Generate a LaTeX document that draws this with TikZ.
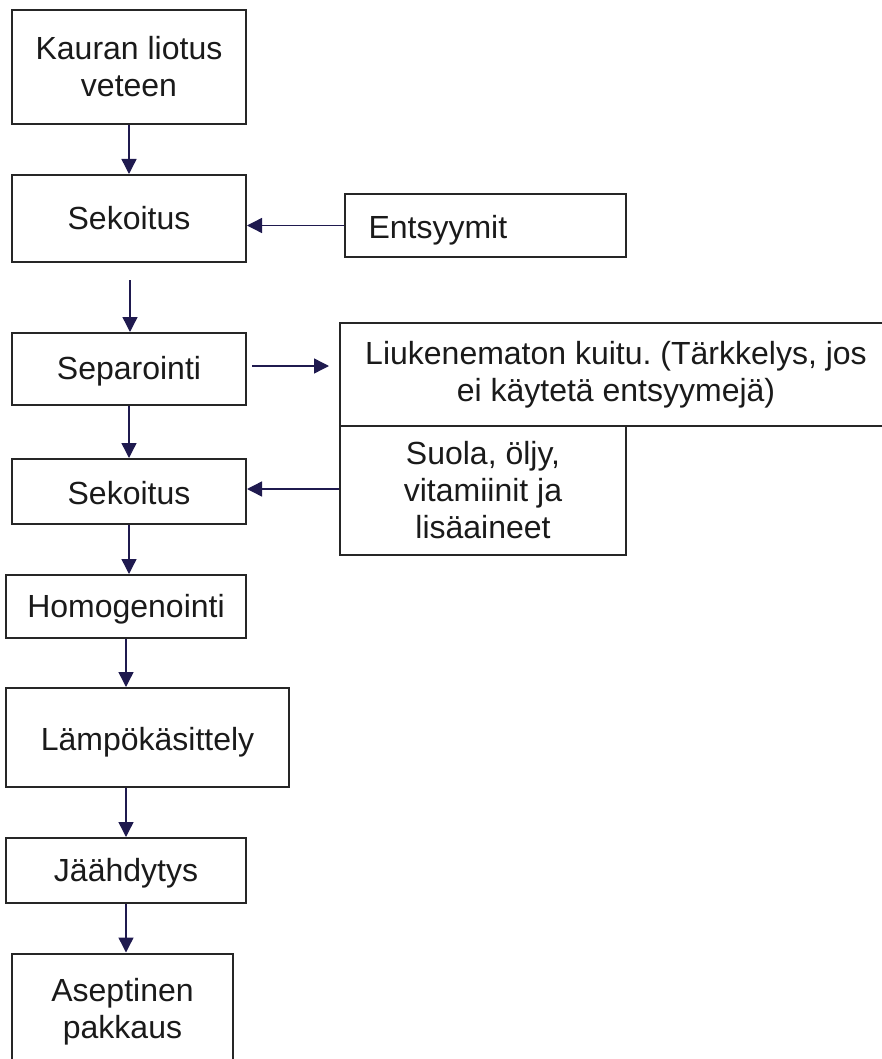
\documentclass[tikz,border=0pt]{standalone}
\usepackage{fontspec}
\setmainfont{Liberation Sans}
\usetikzlibrary{arrows.meta,calc}
\definecolor{boxline}{HTML}{262626}
\definecolor{flow}{HTML}{1F1A4F}
\definecolor{ink}{HTML}{1A1A1A}
\newcommand{\lowered}[2]{\raisebox{-#1}[\height][\depth]{#2}}
\tikzset{
  x=1pt, y=-1pt,
  box/.style={draw=boxline, line width=2pt, inner sep=0pt, align=center,
    text=ink, font=\fontsize{32}{37}\selectfont},
  flowarrow/.style={draw=flow, line width=1.4pt,
    -{Triangle[length=15pt,width=15pt]}},
}
\begin{document}
\frenchspacing
\begin{tikzpicture}
\useasboundingbox (0,0) rectangle (882,1059);

% main process column
\node[box, minimum width=234, minimum height=114] (kauran) at (129,67) {Kauran liotus\\veteen};
\node[box, minimum width=234, minimum height=87] (sek1) at (129,218.5) {Sekoitus};
\node[box, minimum width=234, minimum height=72] (sep) at (129,369) {\lowered{2pt}{Separointi}};
\node[box, minimum width=234, minimum height=65] (sek2) at (129,491.5) {\lowered{2pt}{Sekoitus}};
\node[box, minimum width=240, minimum height=63] (homog) at (126,606.5) {\lowered{3pt}{Homogenointi}};
\node[box, minimum width=283, minimum height=99] (lampo) at (147.5,737.5) {\lowered{5pt}{Lämpökäsittely}};
\node[box, minimum width=240, minimum height=65] (jaah) at (126,870.5) {\lowered{3pt}{Jäähdytys}};
\node[box, minimum width=221, minimum height=117] (asep) at (122.5,1012) {Aseptinen\\pakkaus};

% side inputs and outputs
\node[box, minimum width=281, minimum height=63, text width=258, align=left] (entsyymit) at (485.5,225.5) {\hspace*{12pt}\lowered{5pt}{Entsyymit}};
\node[box, minimum width=552, minimum height=103] (liuk) at (616,374.5) {Liukenematon kuitu. (Tärkkelys, jos\\ei käytetä entsyymejä)};
\node[box, minimum width=286, minimum height=129] (suola) at (483,490.5) {Suola, öljy,\\vitamiinit ja\\lisäaineet};

% free arrow ends
\coordinate (sepin) at (130,280);
\coordinate (sepout) at (252,366);
\coordinate (liukin) at (329,366);

% connectors
\draw[flowarrow] (kauran.south) -- (sek1.north);
\draw[flowarrow] (entsyymit.west) -- (entsyymit.west -| sek1.east);
\draw[flowarrow] (sepin) -- (sepin |- sep.north);
\draw[flowarrow] (sepout) -- (liukin);
\draw[flowarrow] (sep.south) -- (sek2.north);
\draw[flowarrow] ($(suola.west)+(0,-1.5)$) -- ($(suola.west -| sek2.east)+(0,-1.5)$);
\draw[flowarrow] (sek2.south) -- (sek2.south |- homog.north);
\draw[flowarrow] (homog.south) -- (homog.south |- lampo.north);
\draw[flowarrow] (jaah.north |- lampo.south) -- (jaah.north);
\draw[flowarrow] (jaah.south) -- (jaah.south |- asep.north);
\end{tikzpicture}
\end{document}
